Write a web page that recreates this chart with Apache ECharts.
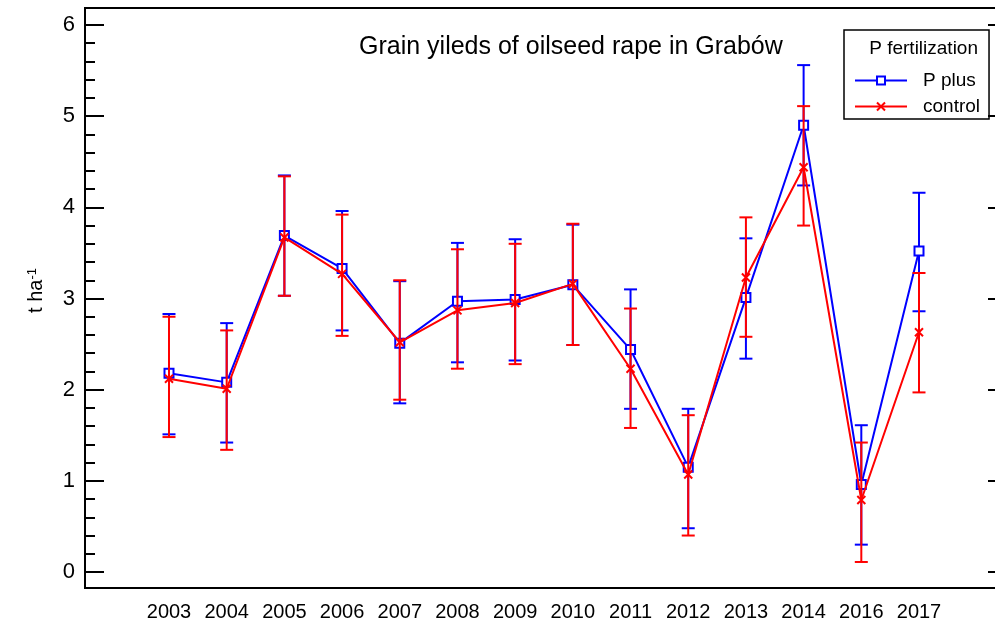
<!DOCTYPE html>
<html>
<head>
<meta charset="utf-8">
<script src="https://cdn.jsdelivr.net/npm/echarts@6/dist/echarts.min.js"></script>
<style>
  html, body { margin: 0; padding: 0; background: #fff; }
  #chart { width: 995px; height: 628px; }
</style>
</head>
<body>
<div id="chart"></div>
<script>
// years on the x axis (2015 is missing in the source)
const years = ['2003', '2004', '2005', '2006', '2007', '2008', '2009', '2010', '2011', '2012', '2013', '2014', '2016', '2017'];

// P plus: mean and error bar ends
const pPlus = [2.18, 2.08, 3.69, 3.33, 2.51, 2.97, 2.99, 3.15, 2.44, 1.15, 3.01, 4.90, 0.96, 3.52];
const pPlusLow = [1.51, 1.42, 3.03, 2.65, 1.85, 2.30, 2.32, 2.49, 1.79, 0.48, 2.34, 4.24, 0.30, 2.86];
const pPlusHigh = [2.83, 2.73, 4.35, 3.96, 3.19, 3.61, 3.65, 3.81, 3.10, 1.79, 3.66, 5.56, 1.61, 4.16];

// control: mean and error bar ends
const control = [2.12, 2.01, 3.67, 3.27, 2.52, 2.87, 2.95, 3.16, 2.23, 1.07, 3.23, 4.44, 0.79, 2.63];
const controlLow = [1.48, 1.34, 3.03, 2.59, 1.89, 2.23, 2.28, 2.49, 1.58, 0.40, 2.58, 3.80, 0.11, 1.97];
const controlHigh = [2.80, 2.65, 4.34, 3.92, 3.20, 3.54, 3.60, 3.82, 2.89, 1.72, 3.89, 5.11, 1.42, 3.28];

const FONT = "'Liberation Sans', Arial, sans-serif";
const BLUE = '#0000ff';
const RED = '#ff0000';

function errorBarSeries(name, low, high, color, z) {
  return {
    name: name,
    type: 'custom',
    xAxisIndex: 2,
    yAxisIndex: 3,
    z: z,
    silent: true,
    data: years.map((y, i) => [i, low[i], high[i]]),
    encode: { x: 0, y: [1, 2] },
    renderItem: function (params, api) {
      const i = api.value(0);
      const lo = api.coord([i, api.value(1)]);
      const hi = api.coord([i, api.value(2)]);
      const w = 6.5;
      const style = { stroke: color, lineWidth: 2 };
      return {
        type: 'group',
        children: [
          { type: 'line', shape: { x1: lo[0], y1: lo[1], x2: hi[0], y2: hi[1] }, style: style },
          { type: 'line', shape: { x1: hi[0] - w, y1: hi[1], x2: hi[0] + w, y2: hi[1] }, style: style },
          { type: 'line', shape: { x1: lo[0] - w, y1: lo[1], x2: lo[0] + w, y2: lo[1] }, style: style }
        ]
      };
    }
  };
}

const chart = echarts.init(document.getElementById('chart'));

const option = {
  animation: false,
  textStyle: { fontFamily: FONT },
  title: [
    {
      text: 'Grain yileds of oilseed rape in Grabów',
      left: 354,
      top: 30,
      textStyle: { fontFamily: FONT, fontSize: 25, fontWeight: 'normal', color: '#000' }
    },
    {
      text: 'P fertilization',
      right: 17,
      top: 39,
      padding: 0,
      textStyle: { fontFamily: FONT, fontSize: 19, fontWeight: 'normal', color: '#000' }
    }
  ],
  legend: {
    orient: 'vertical',
    left: 844,
    top: 30,
    padding: [41, 9, 3, 10],
    itemGap: 7,
    itemWidth: 52,
    itemHeight: 10,
    borderColor: '#000',
    borderWidth: 1.5,
    borderRadius: 0,
    data: ['P plus', 'control'],
    textStyle: { fontFamily: FONT, fontSize: 19, color: '#000', padding: [0, 0, 0, 11] }
  },
  grid: [
    // frame (right edge falls just outside the picture)
    { left: 85, right: -6, top: 8, bottom: 40, outerBoundsMode: 'none', show: true, borderColor: '#000', borderWidth: 2, backgroundColor: 'transparent' },
    // tick marks, 0..6
    { left: 85, right: -6, top: 25, bottom: 56, outerBoundsMode: 'none' },
    // data area
    { left: 169, right: 76, top: 25, bottom: 56, outerBoundsMode: 'none' }
  ],
  xAxis: [
    { gridIndex: 0, type: 'value', show: false },
    { gridIndex: 1, type: 'value', show: false },
    {
      gridIndex: 2,
      type: 'category',
      data: years,
      boundaryGap: false,
      axisLine: { show: false },
      axisTick: { show: false },
      splitLine: { show: false },
      axisLabel: { fontFamily: FONT, fontSize: 20, color: '#000', margin: 30, interval: 0 }
    }
  ],
  yAxis: [
    { gridIndex: 0, type: 'value', show: false },
    {
      gridIndex: 1,
      type: 'value',
      position: 'left',
      min: 0,
      max: 6,
      interval: 1,
      axisLine: { show: false },
      axisTick: { show: true, inside: true, length: 19, lineStyle: { color: '#000', width: 2 } },
      minorTick: { show: true, splitNumber: 5, length: 10, lineStyle: { color: '#000', width: 2 } },
      splitLine: { show: false },
      axisLabel: { fontFamily: FONT, fontSize: 22, color: '#000', margin: 10 },
      name: '{a|t ha}{b|-1}',
      nameLocation: 'middle',
      nameGap: 38,
      nameTextStyle: {
        padding: [0, 0, 0, 16],
        rich: {
          a: { fontFamily: FONT, fontSize: 20, color: '#000' },
          b: { fontFamily: FONT, fontSize: 13, color: '#000', verticalAlign: 'top', padding: [0, 0, 8, 0] }
        }
      }
    },
    {
      gridIndex: 1,
      type: 'value',
      position: 'right',
      min: 0,
      max: 6,
      interval: 1,
      axisLine: { show: false },
      axisTick: { show: true, inside: true, length: 13, lineStyle: { color: '#000', width: 2 } },
      splitLine: { show: false },
      axisLabel: { show: false }
    },
    { gridIndex: 2, type: 'value', min: 0, max: 6, show: false }
  ],
  series: [
    errorBarSeries('P plus err', pPlusLow, pPlusHigh, BLUE, 2),
    {
      name: 'P plus',
      type: 'line',
      xAxisIndex: 2,
      yAxisIndex: 3,
      z: 3,
      data: pPlus,
      symbol: 'emptyRect',
      symbolSize: 9,
      color: BLUE,
      lineStyle: { color: BLUE, width: 2 },
      itemStyle: { color: BLUE, borderColor: BLUE, borderWidth: 1.5 }
    },
    errorBarSeries('control err', controlLow, controlHigh, RED, 4),
    {
      name: 'control',
      type: 'line',
      xAxisIndex: 2,
      yAxisIndex: 3,
      z: 5,
      data: control,
      symbol: 'path://M0,0L10,10M10,0L0,10',
      symbolSize: 8,
      color: RED,
      lineStyle: { color: RED, width: 2 },
      itemStyle: { color: RED, borderColor: RED, borderWidth: 2 }
    }
  ]
};

chart.setOption(option);
</script>
</body>
</html>
